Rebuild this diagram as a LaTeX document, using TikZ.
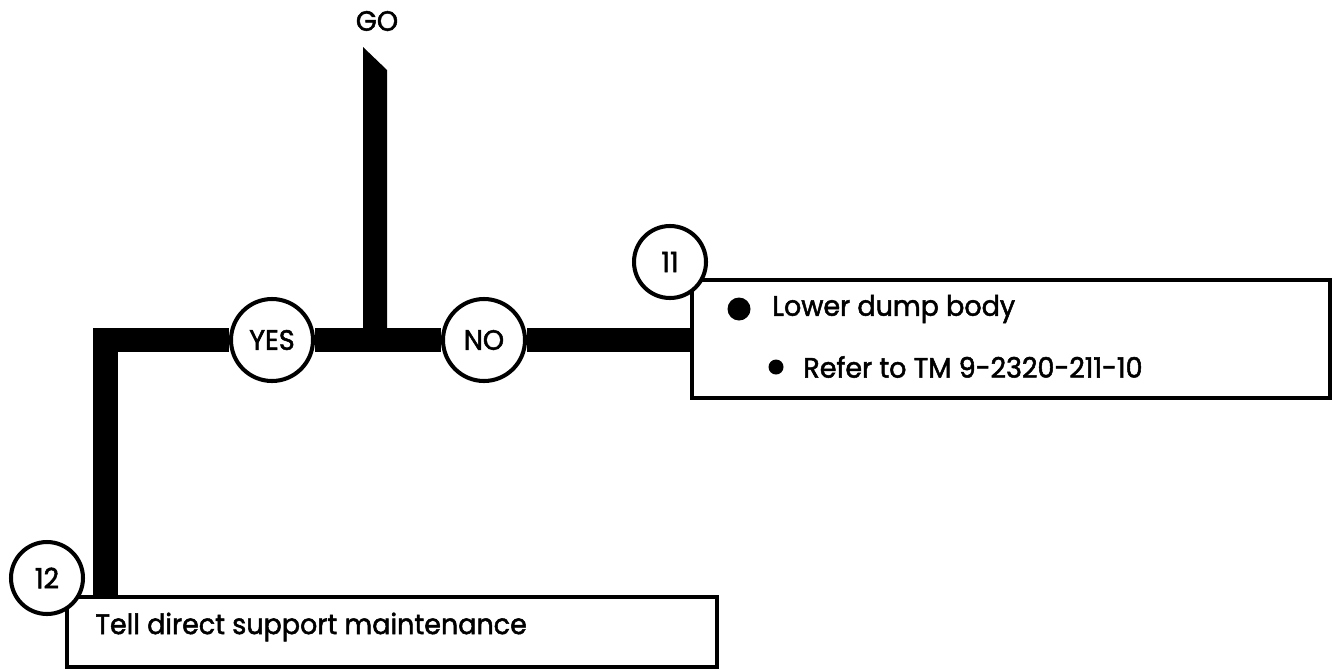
\documentclass[tikz,border=0pt]{standalone}
\usepackage{fontspec}
\setmainfont{Poppins}[FakeStretch=0.96, FakeBold=1.8]
\usetikzlibrary{calc,backgrounds}
\definecolor{ChartInk}{gray}{0.0}
\definecolor{ChartPaper}{gray}{1.0}
\tikzset{
    chart/diagram/.style={
        x=0.02cm, y=-0.02cm,
        font=\fontsize{16}{18}\selectfont,
        text=ChartInk,
        line join=miter
    },
    chart/bar/.style={draw=ChartInk, line width=14.2pt},
    chart/answer/.style={
        circle, draw=ChartInk, fill=ChartPaper, line width=2.3pt,
        minimum size=2*41*0.02cm, inner sep=0pt
    },
    chart/stepno/.style={
        circle, draw=ChartInk, fill=ChartPaper, line width=2.3pt,
        minimum size=2*36*0.02cm, inner sep=0pt
    },
    chart/box/.style={
        rectangle, draw=ChartInk, fill=ChartPaper, line width=2.2pt,
        inner sep=0pt
    },
    chart/bigdot/.style={circle, fill=ChartInk, inner sep=0pt, minimum size=0.46cm},
    chart/smalldot/.style={circle, fill=ChartInk, inner sep=0pt, minimum size=0.3cm},
    chart/text/.style={anchor=west, inner sep=0pt}
}
\begin{document}
\begin{tikzpicture}[chart/diagram]
    \useasboundingbox (0,0) rectangle (1334,670);
    % boxes and numbered step circles
    \node[chart/box, minimum width=12.76cm, minimum height=2.36cm] (box11) at (1011,339) {};
    \node[chart/box, minimum width=13cm, minimum height=1.4cm] (box12) at (392,632) {};
    \node[chart/stepno] (step11) at (670,262) {11};
    \node[chart/stepno] (step12) at (47,578) {12};
    \node[chart/bigdot] (dot1) at (739,309) {};
    \node[chart/text] (lower) at (772,309) {Lower dump body};
    \node[chart/smalldot] (dot2) at (776,367) {};
    \node[chart/text] (refer) at (803,367) {Refer to TM 9-2320-211-10};
    \node[chart/text] (tell) at (95,627) {Tell direct support maintenance};
    % the decision
    \node (go) at (377,21) {GO};
    \node[chart/answer] (yes) at (272,340) {YES};
    \node[chart/answer] (no) at (484,340) {NO};
    \coordinate (junction) at (375,340);
    \coordinate (gotip) at (375,47);
    \coordinate (corner) at (105.5,340);
    \begin{scope}[on background layer]
        \draw[chart/bar] (box12.north -| corner) -- (corner) -- (yes) -- (no) -- (box11.west |- no);
        \fill[ChartInk] ($(junction)+(-12,0)$) -- ($(gotip)+(-12,0)$)
            -- ($(gotip)+(12,23)$) -- ($(junction)+(12,0)$) -- cycle;
    \end{scope}
\end{tikzpicture}
\end{document}
